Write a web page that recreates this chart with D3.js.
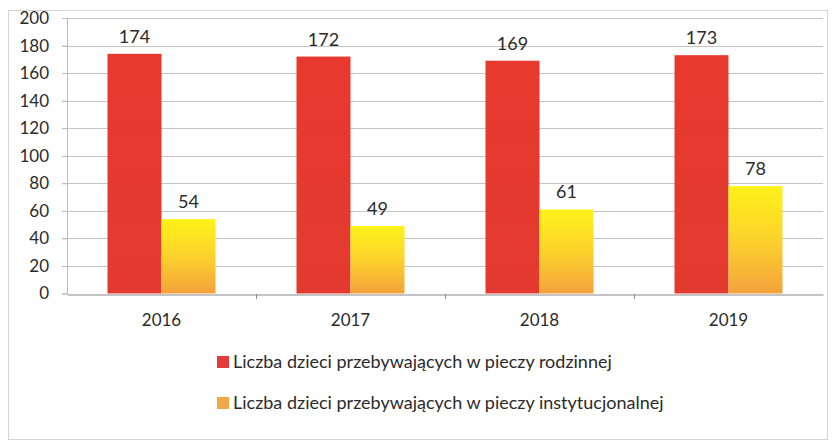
<!DOCTYPE html>
<html>
<head>
<meta charset="utf-8">
<script src="https://cdn.jsdelivr.net/npm/d3@7"></script>
<style>
  html, body { margin: 0; padding: 0; background: #fff; }
  svg { display: block; font-family: Lato, "Open Sans", sans-serif; }
</style>
</head>
<body>
<svg id="chart" width="834" height="446"></svg>
<script>
// Children in foster care, by year
const years = ["2016", "2017", "2018", "2019"];
const seriesNames = [
  "Liczba dzieci przebywających w pieczy rodzinnej",
  "Liczba dzieci przebywających w pieczy instytucjonalnej"
];
const familyCare = [174, 172, 169, 173];
const institutionalCare = [54, 49, 61, 78];
const yTicks = [0, 20, 40, 60, 80, 100, 120, 140, 160, 180, 200];

const seriesValues = [familyCare, institutionalCare];

const svg = d3.select("#chart");
const plot = { left: 67, right: 823, top: 18, bottom: 293.5 };

// Outer frame
svg.append("rect")
  .attr("x", 8.5).attr("y", 10.5)
  .attr("width", 819).attr("height", 429)
  .attr("fill", "none").attr("stroke", "#d4d4d4");

// Gradients for bar fills
const defs = svg.append("defs");
const gRed = defs.append("linearGradient").attr("id", "gRed")
  .attr("x1", 0).attr("y1", 0).attr("x2", 0).attr("y2", 1);
gRed.append("stop").attr("offset", "0%").attr("stop-color", "#e8392e");
gRed.append("stop").attr("offset", "100%").attr("stop-color", "#e33a30");
const gYel = defs.append("linearGradient").attr("id", "gYel")
  .attr("x1", 0).attr("y1", 0).attr("x2", 0).attr("y2", 1);
gYel.append("stop").attr("offset", "0%").attr("stop-color", "#fff21a");
gYel.append("stop").attr("offset", "50%").attr("stop-color", "#fcd22c");
gYel.append("stop").attr("offset", "100%").attr("stop-color", "#f4a23c");

const fills = ["url(#gRed)", "url(#gYel)"];
const legendColors = ["#e23b3b", "#f0a848"];

const x0 = d3.scaleBand().domain(years).range([plot.left, plot.right]).padding(0);
const x1 = d3.scaleBand().domain(d3.range(seriesValues.length))
  .range([0, x0.bandwidth()]).paddingInner(0).paddingOuter(0.75);
const y = d3.scaleLinear().domain([0, 200]).range([plot.bottom, plot.top]);

// Horizontal gridlines
svg.append("g")
  .selectAll("line")
  .data(yTicks.filter(t => t > 0))
  .join("line")
  .attr("x1", plot.left - 5).attr("x2", plot.right)
  .attr("y1", d => Math.round(y(d)) + 0.5).attr("y2", d => Math.round(y(d)) + 0.5)
  .attr("stroke", "#c4c4c4").attr("stroke-width", 1);

// Y axis
const yAxis = svg.append("g")
  .attr("transform", `translate(${plot.left},0)`)
  .call(d3.axisLeft(y).tickValues(yTicks).tickSize(5).tickPadding(13));
yAxis.select(".domain").attr("stroke", "#bdbdbd");
yAxis.selectAll(".tick line").attr("stroke", "#bdbdbd");
yAxis.selectAll("text")
  .attr("font-size", 17).attr("fill", "#2b2b2b")
  .attr("font-family", "Lato, 'Open Sans', sans-serif");

// X axis
const xAxis = svg.append("g")
  .attr("transform", `translate(0,${Math.round(plot.bottom) + 0.5})`)
  .call(d3.axisBottom(x0).tickSize(0).tickPadding(19));
xAxis.select(".domain").attr("stroke", "#8a8a8a");
xAxis.selectAll("text")
  .attr("font-size", 17).attr("fill", "#2b2b2b")
  .attr("font-family", "Lato, 'Open Sans', sans-serif");
// Category separator ticks
svg.append("g")
  .selectAll("line")
  .data(years.slice(1))
  .join("line")
  .attr("x1", d => Math.round(x0(d)) + 0.5).attr("x2", d => Math.round(x0(d)) + 0.5)
  .attr("y1", Math.round(plot.bottom)).attr("y2", Math.round(plot.bottom) + 5)
  .attr("stroke", "#8a8a8a");

// Bars
const groups = svg.append("g")
  .selectAll("g")
  .data(years)
  .join("g")
  .attr("transform", d => `translate(${x0(d)},0)`);

groups.selectAll("rect")
  .data((d, i) => seriesValues.map((vals, s) => ({ s, v: vals[i] })))
  .join("rect")
  .attr("x", d => x1(d.s))
  .attr("width", x1.bandwidth())
  .attr("y", d => y(d.v))
  .attr("height", d => y(0) - y(d.v))
  .attr("fill", d => fills[d.s]);

// Value labels
groups.selectAll("text.val")
  .data((d, i) => seriesValues.map((vals, s) => ({ s, v: vals[i] })))
  .join("text")
  .attr("class", "val")
  .attr("x", d => x1(d.s) + x1.bandwidth() / 2)
  .attr("y", d => y(d.v) - 11)
  .attr("text-anchor", "middle")
  .attr("font-size", 18)
  .attr("fill", "#2b2b2b")
  .text(d => d.v);

// Legend
const legend = svg.append("g");
const legendRows = legend.selectAll("g")
  .data(seriesNames)
  .join("g")
  .attr("transform", (d, i) => `translate(217,${362 + i * 41})`);
legendRows.append("rect")
  .attr("x", 0).attr("y", -6)
  .attr("width", 12).attr("height", 12)
  .attr("fill", (d, i) => legendColors[i]);
legendRows.append("text")
  .attr("x", 16).attr("y", 0)
  .attr("dy", "0.35em")
  .attr("font-size", 18)
  .attr("fill", "#2b2b2b")
  .text(d => d);
</script>
</body>
</html>
